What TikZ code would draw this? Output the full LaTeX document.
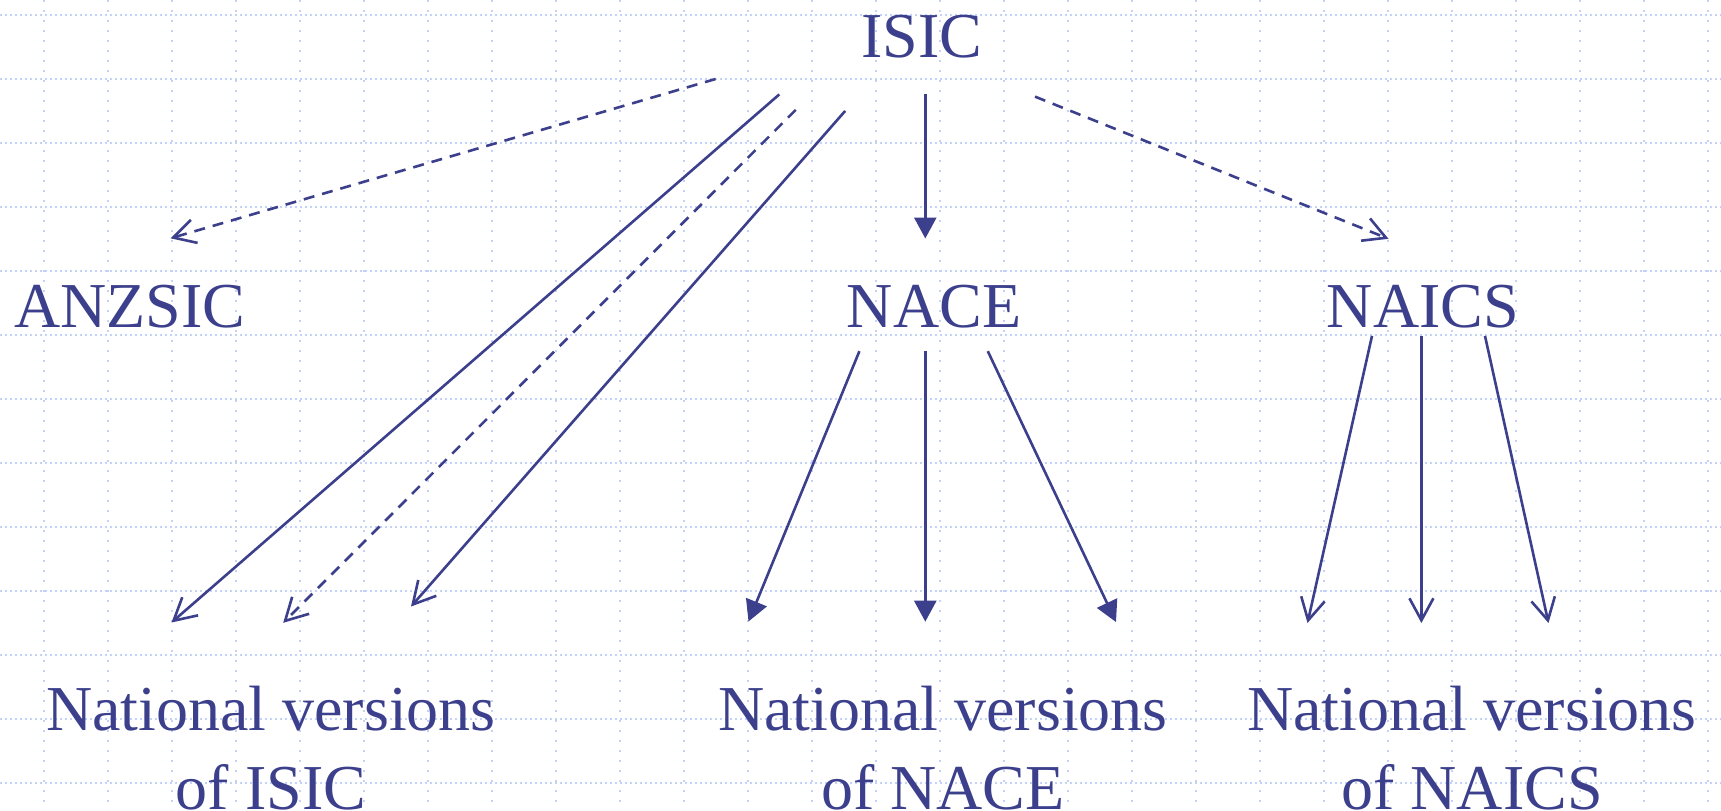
\documentclass[tikz,border=0pt]{standalone}
\usepackage{fontspec}
\setmainfont{Liberation Serif}
\usetikzlibrary{arrows.meta}
\definecolor{ink}{RGB}{60,64,140}
\definecolor{gridc}{RGB}{196,210,250}
\tikzset{
  lbl/.style={inner sep=0pt, text=ink, font=\fontsize{32}{39.5}\selectfont, align=center},
  conn/.style={draw=ink, line width=1.3pt},
  openhead/.style={conn, -{Straight Barb[length=11pt,width=12pt,line width=1.3pt]}},
  fullhead/.style={conn, -{Triangle[length=10.5pt,width=11pt]}},
  dsh/.style={dash pattern=on 5.5pt off 4pt},
  hgrid/.style={draw=gridc, line width=1.1pt, dash pattern=on 1pt off 1.5pt},
  vgrid/.style={draw=gridc, line width=1.1pt, dash pattern=on 1pt off 4pt}
}
\begin{document}
\begin{tikzpicture}[x=0.5pt,y=-0.5pt]
\useasboundingbox (0,0) rectangle (1721,810);
\fill[white] (0,0) rectangle (1721,810);
% grid
\foreach \gy in {15,79,...,783} {\draw[hgrid] (0,\gy) -- (1721,\gy);}
\foreach \gx in {44,108,...,1708} {\draw[vgrid] (\gx,0) -- (\gx,810);}
% labels
\node[lbl, anchor=base] (isic) at (922,57) {ISIC};
\node[lbl, anchor=base] (anz) at (130,327) {ANZSIC};
\node[lbl, anchor=base] (nace) at (934,327) {NACE};
\node[lbl, anchor=base] (naics) at (1423,327) {NAICS};
\node[lbl, anchor=base] (nvisic) at (271,809) {National versions\\of ISIC};
\node[lbl, anchor=base] (nvnace) at (943,809) {National versions\\of NACE};
\node[lbl, anchor=base] (nvnaics) at (1472,809) {National versions\\of NAICS};
% connector end points
\coordinate (i1) at (715.6,79);    \coordinate (a1) at (170.5,238.3);
\coordinate (i2) at (779.3,94.4);  \coordinate (v1) at (171.5,622.5);
\coordinate (i3) at (795.8,109.8); \coordinate (v2) at (283.2,622.8);
\coordinate (i4) at (845.2,110.9); \coordinate (v3) at (411,606.5);
\coordinate (i5) at (925.3,94.4);  \coordinate (n0) at (925.3,238.5);
\coordinate (i6) at (1035,96.6);   \coordinate (s0) at (1388.5,238.8);
\coordinate (c1) at (859.4,351.2); \coordinate (w1) at (748.5,621.5);
\coordinate (c2) at (925.3,351.2); \coordinate (w2) at (925.3,621.7);
\coordinate (c3) at (987.8,351.2); \coordinate (w3) at (1116,622);
\coordinate (d1) at (1372,335.9);  \coordinate (u1) at (1307.5,623);
\coordinate (d2) at (1421.4,335.9);\coordinate (u2) at (1421.4,623);
\coordinate (d3) at (1485,335.9);  \coordinate (u3) at (1548.5,623);
% connectors
\draw[openhead, dsh] (i1) -- (a1);
\draw[openhead] (i2) -- (v1);
\draw[openhead, dsh] (i3) -- (v2);
\draw[openhead] (i4) -- (v3);
\draw[fullhead] (i5) -- (n0);
\draw[openhead, dsh] (i6) -- (s0);
\draw[fullhead] (c1) -- (w1);
\draw[fullhead] (c2) -- (w2);
\draw[fullhead] (c3) -- (w3);
\draw[openhead] (d1) -- (u1);
\draw[openhead] (d2) -- (u2);
\draw[openhead] (d3) -- (u3);
\end{tikzpicture}
\end{document}
